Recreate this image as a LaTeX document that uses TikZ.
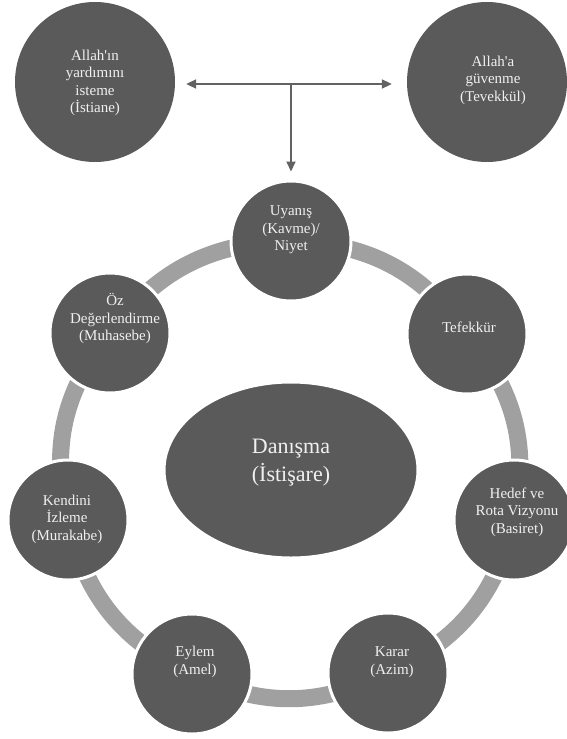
\documentclass[tikz,border=0pt]{standalone}
\usepackage{fontspec}
\setmainfont{Liberation Serif}
\usetikzlibrary{positioning,arrows.meta,backgrounds,shapes.geometric}

\definecolor{stepfill}{HTML}{5A5A5A}
\definecolor{bandgray}{HTML}{A0A0A0}
\definecolor{arrowgray}{HTML}{626262}
\definecolor{labelwhite}{HTML}{F0F0F0}

\tikzset{
  bigcircle/.style={circle,fill=stepfill,minimum size=160pt,inner sep=0pt},
  stepcircle/.style={circle,fill=stepfill,draw=white,line width=3pt,minimum size=120pt,inner sep=0pt},
  core/.style={ellipse,fill=stepfill,draw=white,line width=3pt,minimum width=254pt,minimum height=176pt,inner sep=0pt},
  lbl/.style={text=labelwhite,align=center,inner sep=0pt,font=\fontsize{15}{17.5}\selectfont},
  corelbl/.style={lbl,font=\fontsize{22}{28}\selectfont},
  band/.style={bandgray,line width=17pt},
  link/.style={arrowgray,line width=2pt,-{Triangle[length=10pt,width=9pt]}}
}

\begin{document}
\begin{tikzpicture}[x=1pt,y=1pt]
  \useasboundingbox (0,0) rectangle (566,-739);

  % top pair
  \node[bigcircle] (istiane) at (95,-82) {};
  \node[bigcircle] (tevekkul) at (487,-82) {};
  \node[lbl] (istiane-t) at (95,-83) {Allah\textquotesingle ın\\yardımını\\isteme\\(İstiane)};
  \node[lbl] (tevekkul-t) at (493,-80) {Allah\textquotesingle a\\güvenme\\(Tevekkül)};

  % ring of steps
  \node[stepcircle] (uyanis) at (291,-241) {};
  \node[stepcircle] (tefekkur) at (467,-334) {};
  \node[stepcircle] (basiret) at (514,-520) {};
  \node[stepcircle] (azim) at (388,-673) {};
  \node[stepcircle] (amel) at (192,-674) {};
  \node[stepcircle] (murakabe) at (68,-520) {};
  \node[stepcircle] (muhasebe) at (110,-333) {};
  \node[core] (istisare) at (291,-470) {};

  \node[lbl] (uyanis-t) at (291,-230) {Uyanış\\(Kavme)/\\Niyet};
  \node[lbl] (tefekkur-t) at (469,-327) {Tefekkür};
  \node[lbl] (basiret-t) at (517,-512) {Hedef ve\\Rota Vizyonu\\(Basiret)};
  \node[lbl] (azim-t) at (392,-662) {Karar\\(Azim)};
  \node[lbl] (amel-t) at (195,-662) {Eylem\\(Amel)};
  \node[lbl] (murakabe-t) at (67,-519) {Kendini\\İzleme\\(Murakabe)};
  \node[lbl] (muhasebe-t) at (115,-319) {Öz\\Değerlendirme\\(Muhasebe)};
  \node[corelbl] (istisare-t) at (291,-463) {Danışma\\(İstişare)};

  \begin{scope}[on background layer]
    \draw[band] (uyanis.center) to[bend left=26] (tefekkur.center);
    \draw[band] (tefekkur.center) to[bend left=26] (basiret.center);
    \draw[band] (basiret.center) to[bend left=26] (azim.center);
    \draw[band] (azim.center) to[bend left=26] (amel.center);
    \draw[band] (amel.center) to[bend left=26] (murakabe.center);
    \draw[band] (murakabe.center) to[bend left=26] (muhasebe.center);
    \draw[band] (muhasebe.center) to[bend left=26] (uyanis.center);
  \end{scope}

  % arrows from the hub
  \coordinate (hub) at (291,-84);
  \draw[link,shorten >=11pt] (hub) -- (hub -| istiane.east);
  \draw[link,shorten >=15pt] (hub) -- (hub -| tevekkul.west);
  \draw[link,shorten >=8pt] (hub) -- (uyanis.north);
\end{tikzpicture}
\end{document}
